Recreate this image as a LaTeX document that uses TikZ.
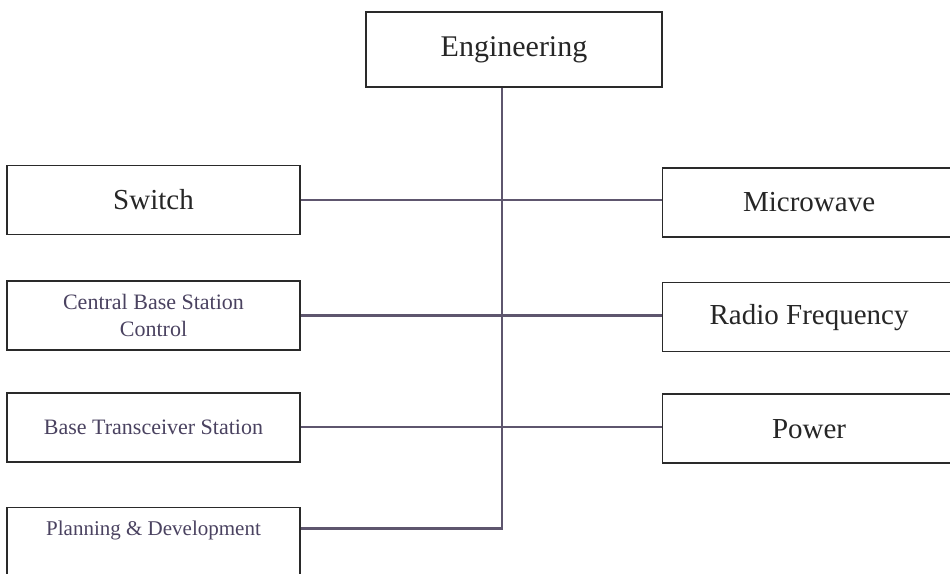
\documentclass[tikz,border=0pt]{standalone}
\usepackage{fontspec}
\setmainfont{Liberation Serif}
\usetikzlibrary{positioning, calc}
\definecolor{boxline}{HTML}{2A2A2A}
\definecolor{linkgray}{HTML}{5E566E}
\definecolor{textgray}{HTML}{262626}
\definecolor{smalltext}{HTML}{4A4260}

\begin{document}
\begin{tikzpicture}[
    x=1pt, y=-1pt,
    node distance=45pt and 361pt,
    unit/.style={draw=boxline, line width=1.6pt, minimum height=69pt,
                 minimum width=293pt, inner sep=0pt, align=center,
                 text=textgray, font=\fontsize{29}{33}\selectfont},
    smallunit/.style={unit, text=smalltext,
                      font=\fontsize{22}{27}\selectfont},
    link/.style={draw=linkgray, line width=2.4pt},
]
\path[use as bounding box, clip] (0,0) rectangle (950,573);

% === Head ===
\node[unit, minimum width=296pt, minimum height=75pt,
      font=\fontsize{30}{34}\selectfont] (eng) at (514,49.5) {Engineering};

% === Left column ===
\node[unit] (switch) at (153.5,200) {Switch};
\node[smallunit, below=45pt of switch] (cbsc) {Central Base Station\\Control};
\node[smallunit, below=41pt of cbsc] (bts) {Base Transceiver Station};
\node[smallunit, below=44pt of bts, text height=15pt, text depth=28pt,
      font=\fontsize{21}{25}\selectfont] (plan) {Planning \& Development};

% === Right column ===
\node[unit, right=361pt of switch, yshift=-2.5pt] (micro) {Microwave};
\node[unit, below=44pt of micro] (radio) {Radio Frequency};
\node[unit, below=41pt of radio] (power) {Power};

% === Links ===
\coordinate (trunk) at ($(eng.south)+(-12,0)$);
\coordinate (plantap) at ($(plan.north east)+(0,22)$);

\draw[link] (trunk) |- (plantap);
\draw[link] (switch.east) -- (switch.east -| micro.west);
\draw[link] (cbsc.east)   -- (cbsc.east -| radio.west);
\draw[link] (bts.east)    -- (bts.east -| power.west);

\end{tikzpicture}
\end{document}
